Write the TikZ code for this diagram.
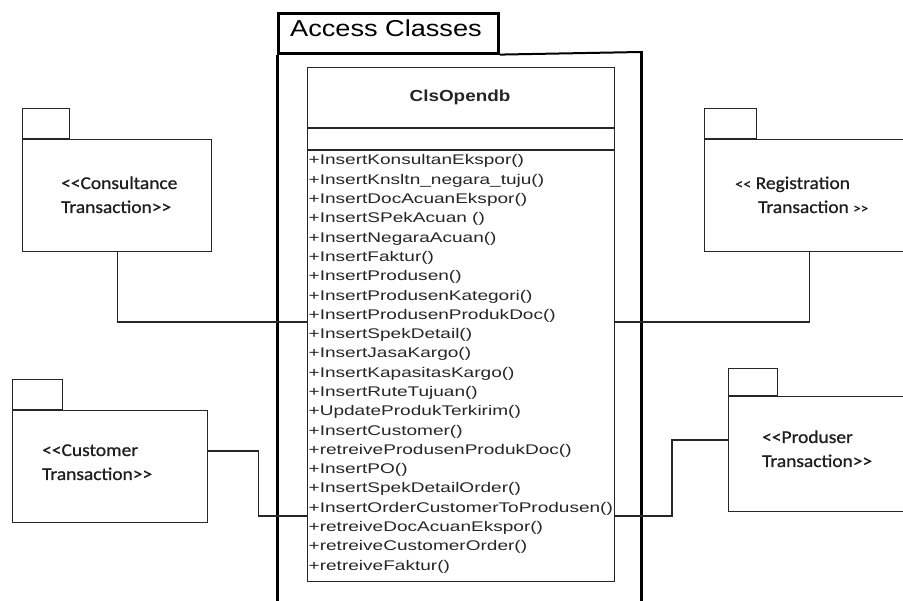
\documentclass[tikz,border=0pt]{standalone}
\usepackage{fontspec}
\newfontfamily\labelfont{Carlito}[FakeStretch=1.08, FakeBold=0.8]
\newfontfamily\methfont{Liberation Sans}[FakeStretch=1.36]
\newfontfamily\namefont{Liberation Sans}[FakeStretch=1.18]
\newfontfamily\titlefont{Liberation Sans}[FakeStretch=1.18]
% angle brackets kept apart so no guillemet ligature forms
\newcommand\stereoL{<\kern0pt<}
\newcommand\stereoR{>\kern0pt>}

\tikzset{
  thinline/.style={draw=black!85, line width=1.4pt},
  thickline/.style={draw=black, line width=3pt},
  pkgbody/.style={thinline, rectangle, anchor=north west, inner sep=0pt},
  pkgtab/.style={thinline, rectangle, anchor=south west, inner sep=0pt},
  pkglabel/.style={anchor=base west, inner sep=0pt, text=black!88,
    font=\labelfont\fontsize{18}{22}\selectfont},
  meth/.style={anchor=base west, inner sep=0pt, text=black!85,
    font=\methfont\fontsize{14}{19}\selectfont},
  wire/.style={thinline}
}

\begin{document}
\begin{tikzpicture}[x=1pt, y=-1pt]
  \useasboundingbox (0,0) rectangle (903,601);
  \clip (0,0) rectangle (903,601);
  \fill[white] (0,0) rectangle (903,601);

  % package frame "Access Classes"
  \node[draw=black, line width=2.6pt, rectangle, anchor=north west, inner sep=0pt,
        minimum width=220pt, minimum height=40pt] (tab) at (277,12) {};
  \node[anchor=base, inner sep=0pt, font=\titlefont\fontsize{23}{26}\selectfont]
        (title) at (386,37) {Access Classes};
  \draw[thickline] (tab.south west) -- (277,610);
  \draw[draw=black, line width=2pt] (tab.south east) -- (641,52);
  \draw[thickline] (641,51) -- (641,610);

  % class ClsOpendb
  \node[thinline, rectangle, anchor=north west, inner sep=0pt,
        minimum width=307pt, minimum height=514pt] (cls) at (307,67) {};
  \draw[thinline] (307,128) -- (614,128);
  \draw[thinline] (307,150) -- (614,150);
  \node[anchor=base, inner sep=0pt, text=black!85,
        font=\namefont\bfseries\fontsize{16}{18}\selectfont] (clsname) at (460,102) {ClsOpendb};

  \foreach \m [count=\i from 0] in {
      {InsertKonsultanEkspor()},
      {InsertKnsltn\_negara\_tuju()},
      {InsertDocAcuanEkspor()},
      {InsertSPekAcuan ()},
      {InsertNegaraAcuan()},
      {InsertFaktur()},
      {InsertProdusen()},
      {InsertProdusenKategori()},
      {InsertProdusenProdukDoc()},
      {InsertSpekDetail()},
      {InsertJasaKargo()},
      {InsertKapasitasKargo()},
      {InsertRuteTujuan()},
      {UpdateProdukTerkirim()},
      {InsertCustomer()},
      {retreiveProdusenProdukDoc()},
      {InsertPO()},
      {InsertSpekDetailOrder()},
      {InsertOrderCustomerToProdusen()},
      {retreiveDocAcuanEkspor()},
      {retreiveCustomerOrder()},
      {retreiveFaktur()}}
    \node[meth] (m\i) at (308.5, 165+\i*19.29) {+\m};

  % packages
  \node[pkgbody, minimum width=189pt, minimum height=112pt] (cons) at (22,139) {};
  \node[pkgtab, minimum width=47pt, minimum height=30pt] (constab) at (cons.north west) {};
  \node[pkglabel] (cons1) at (61,189) {\stereoL Consultance};
  \node[pkglabel] (cons2) at (61,213) {Transaction\stereoR};

  \node[pkgbody, minimum width=210pt, minimum height=112pt] (reg) at (704,139) {};
  \node[pkgtab, minimum width=52pt, minimum height=30pt] (regtab) at (reg.north west) {};
  \node[pkglabel] (reg1) at (735,189) {{\fontsize{15}{15}\selectfont\stereoL} Registration};
  \node[pkglabel] (reg2) at (758,213) {Transaction {\fontsize{14}{14}\selectfont\stereoR}};

  \node[pkgbody, minimum width=195pt, minimum height=112pt] (cust) at (12,410) {};
  \node[pkgtab, minimum width=50pt, minimum height=30pt] (custtab) at (cust.north west) {};
  \node[pkglabel] (cust1) at (42,456) {\stereoL Customer};
  \node[pkglabel] (cust2) at (42,480) {Transaction\stereoR};

  \node[pkgbody, minimum width=200pt, minimum height=115pt] (prod) at (728,396) {};
  \node[pkgtab, minimum width=49pt, minimum height=27pt] (prodtab) at (prod.north west) {};
  \node[pkglabel] (prod1) at (762,443) {\stereoL Produser};
  \node[pkglabel] (prod2) at (762,467) {Transaction\stereoR};

  % connectors
  \coordinate (upper) at (0,322);
  \coordinate (lower) at (0,516);
  \draw[wire] (cons.south) |- (cls.west |- upper);
  \draw[wire] (reg.south) |- (cls.east |- upper);
  \draw[wire] ([yshift=-41pt]cust.north east) -- ++(50,0) |- (cls.west |- lower);
  \draw[wire] ([yshift=-44pt]prod.north west) -- ++(-56,0) |- (cls.east |- lower);
\end{tikzpicture}
\end{document}
